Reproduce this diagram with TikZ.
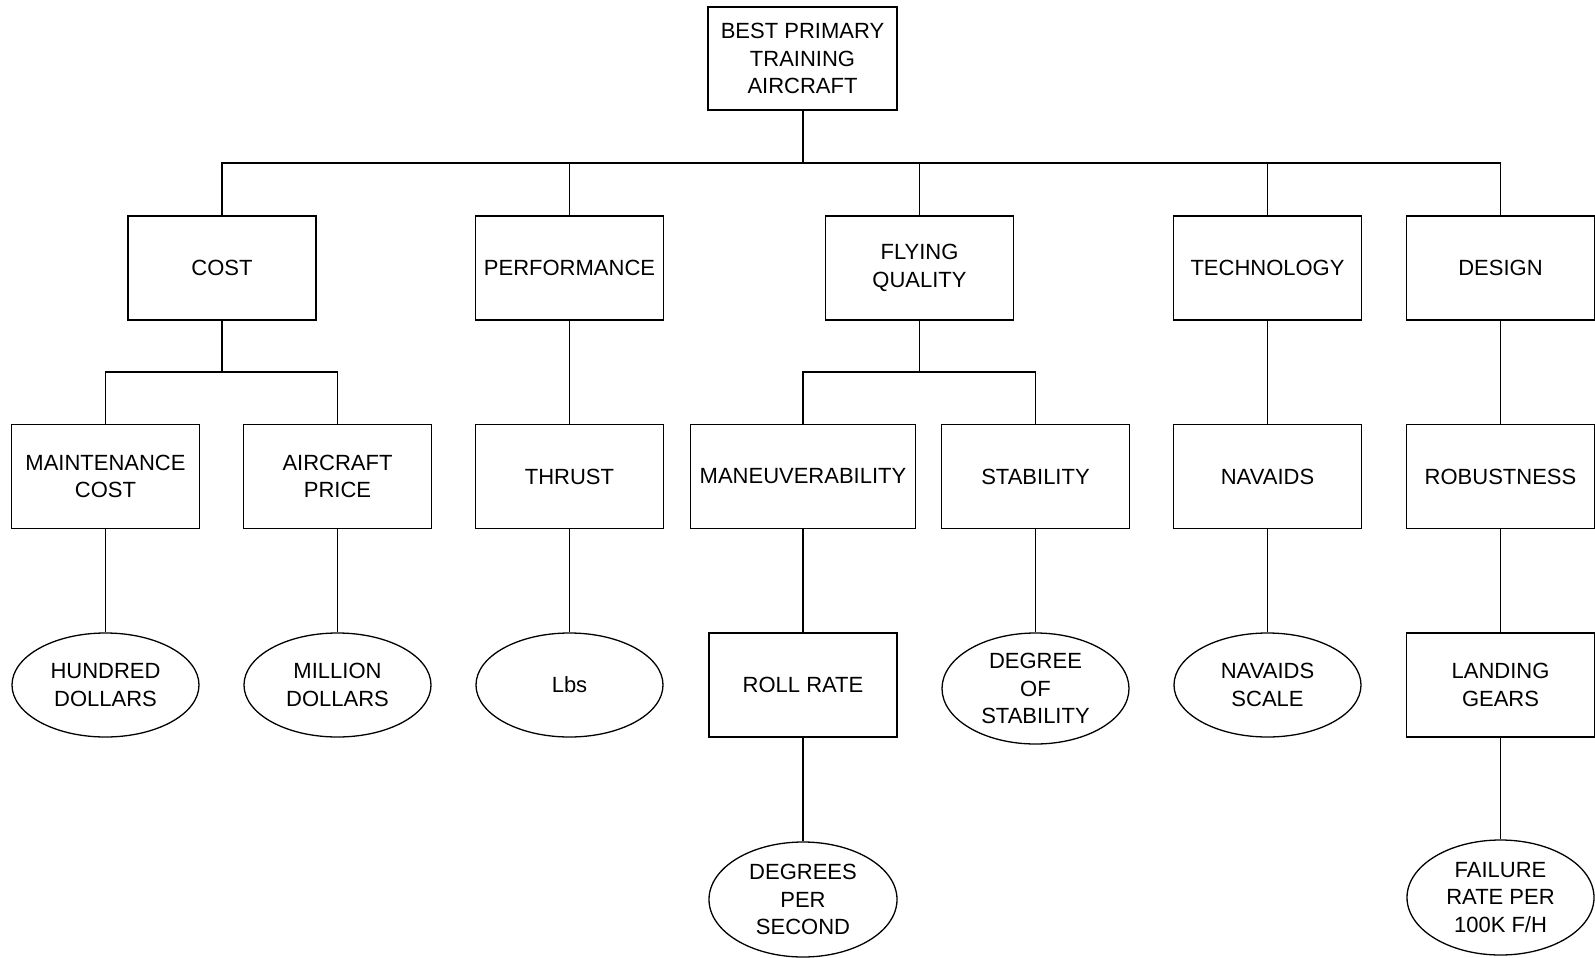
\documentclass[tikz,border=0pt]{standalone}
\usepackage{fontspec}
\setmainfont{Liberation Sans}
\usetikzlibrary{shapes.geometric}
\begin{document}
\begin{tikzpicture}[x=1pt, y=-1pt, % 按像素定位，y 向下
    rbox/.style={draw, line width=1.3pt, minimum width=188pt, minimum height=104pt,
        inner sep=2pt, align=center, font=\fontsize{22}{27.5}\selectfont},
    rell/.style={draw, ellipse, line width=1.3pt, minimum width=187pt, minimum height=104pt,
        inner sep=0pt, align=center, font=\fontsize{22}{27.5}\selectfont},
    link/.style={line width=1.3pt}]
    \useasboundingbox (0,0) rectangle (1595,958);

    % === 目标 ===
    \node[rbox, minimum width=189pt, minimum height=103pt] (root) at (802.5,58.5)
        {BEST PRIMARY\\TRAINING\\AIRCRAFT};

    % === 第一层：准则 ===
    \node[rbox] (cost)   at (222,268)    {COST};
    \node[rbox] (perf)   at (569.5,268)  {PERFORMANCE};
    \node[rbox] (flying) at (919.5,268)  {FLYING\\QUALITY};
    \node[rbox] (tech)   at (1267.5,268) {TECHNOLOGY};
    \node[rbox] (design) at (1500.5,268) {DESIGN};

    % === 第二层：子准则 ===
    \node[rbox] (maint)   at (105.5,476.5)  {MAINTENANCE\\COST};
    \node[rbox] (price)   at (337.5,476.5)  {AIRCRAFT\\PRICE};
    \node[rbox] (thrust)  at (569.5,476.5)  {THRUST};
    \node[rbox, minimum width=225pt] (maneuv) at (803,476.5) {MANEUVERABILITY};
    \node[rbox] (stab)    at (1035.5,476.5) {STABILITY};
    \node[rbox] (navaids) at (1267.5,476.5) {NAVAIDS};
    \node[rbox] (robust)  at (1500.5,476.5) {ROBUSTNESS};

    % === 第三层：度量单位 ===
    \node[rell] (hundred)  at (105.5,685)  {HUNDRED\\DOLLARS};
    \node[rell] (million)  at (337.5,685)  {MILLION\\DOLLARS};
    \node[rell] (lbs)      at (569.5,685)  {Lbs};
    \node[rbox] (roll)     at (803,685)    {ROLL RATE};
    \node[rell, minimum height=111pt] (degstab) at (1035.5,688.5) {DEGREE\\OF\\STABILITY};
    \node[rell] (navscale) at (1267.5,685) {NAVAIDS\\SCALE};
    \node[rbox] (landing)  at (1500.5,685) {LANDING\\GEARS};

    % === 第四层 ===
    \node[rell, minimum width=188pt, minimum height=115pt] (degps) at (803,899.5)
        {DEGREES\\PER\\SECOND};
    \node[rell, minimum height=115pt] (failure) at (1500.5,897.5)
        {FAILURE\\RATE PER\\100K F/H};

    % 总线节点
    \coordinate (bus) at (802.5,163);
    \coordinate (costbus) at (222,372);
    \coordinate (flybus) at (919.5,372);

    % === 连线 ===
    \draw[line width=2pt] (root) -- (bus);
    \draw[link] (cost.north) |- (bus) -| (design.north);
    \foreach \n in {perf,flying,tech}
        \draw[link] (\n.north) -- (\n.north |- bus);

    \draw[link] (cost) -- (costbus);
    \draw[link] (maint.north) |- (costbus) -| (price.north);
    \draw[link] (flying) -- (flybus);
    \draw[link] (maneuv.north) |- (flybus) -| (stab.north);

    \draw[link] (perf) -- (thrust);
    \draw[link] (tech) -- (navaids);
    \draw[link] (design) -- (robust);

    \draw[link] (maint) -- (hundred);
    \draw[link] (price) -- (million);
    \draw[link] (thrust) -- (lbs);
    \draw[link] (maneuv) -- (roll);
    \draw[link] (stab) -- (degstab);
    \draw[link] (navaids) -- (navscale);
    \draw[link] (robust) -- (landing);

    \draw[link] (roll) -- (degps);
    \draw[link] (landing) -- (failure);
\end{tikzpicture}
\end{document}
